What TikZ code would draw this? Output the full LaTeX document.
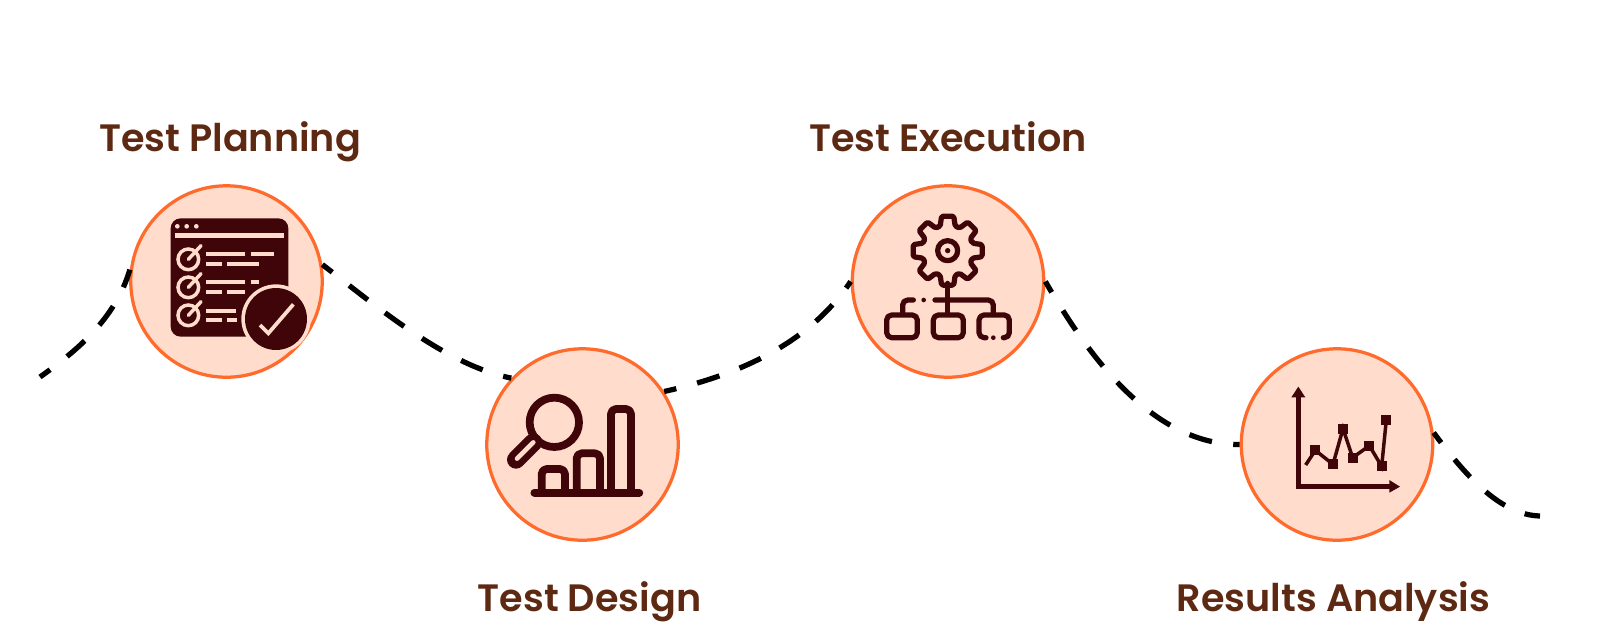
\documentclass[tikz,border=0pt]{standalone}
\usepackage{fontspec}
\setmainfont{Poppins}[BoldFont={Poppins SemiBold}]
\definecolor{stagefill}{HTML}{FFDCCC}
\definecolor{stageedge}{HTML}{FF6B2C}
\definecolor{icondark}{HTML}{3F0508}
\definecolor{labelbrown}{HTML}{5E2912}
\tikzset{
	stage/.style={circle, draw=stageedge, fill=stagefill, line width=0.065cm, minimum size=3.83cm, inner sep=0pt},
	stagelabel/.style={anchor=base, text=labelbrown, font=\fontsize{21.7}{26}\selectfont\bfseries, inner sep=0pt},
	pathdash/.style={black, line width=0.105cm, dash pattern=on 0.47cm off 0.43cm, dash phase=0.22cm},
	iconline/.style={draw=icondark, line width=0.155cm, line cap=round, line join=round, rounded corners=0.1cm},
	thinline/.style={draw=icondark, line width=0.105cm, line cap=round, line join=round, rounded corners=0.1cm},
	paleline/.style={draw=stagefill, line width=0.07cm},
}
\begin{document}
\begin{tikzpicture}[x=0.02cm, y=-0.02cm]

	\useasboundingbox (0,0) rectangle (1600,626);
	\fill[white] (0,0) rectangle (1600,626);

	\node[stage] (planning) at (226.5,281.5) {};
	\node[stage] (design) at (582.5,444.5) {};
	\node[stage] (execution) at (948,281.5) {};
	\node[stage] (analysis) at (1337,444.5) {};

	\node[stagelabel] (planninglabel) at (230,151.5) {Test Planning};
	\node[stagelabel] (designlabel) at (589.5,611) {Test Design};
	\node[stagelabel] (executionlabel) at (948,151.5) {Test Execution};
	\node[stagelabel] (analysislabel) at (1333.5,611) {Results Analysis};

	\coordinate (pathstart) at (40,377);
	\coordinate (pathend) at (1540,516);

	\draw[pathdash] (pathstart) .. controls (75,352) and (115,320) .. (planning.173);
	\draw[pathdash] (planning.10) .. controls (375,305) and (445,365) .. (design.137);
	\draw[pathdash] (design.33) .. controls (725,378) and (805,350) .. (execution.180);
	\draw[pathdash] (execution.0) .. controls (1085,350) and (1150,445) .. (analysis.180);
	\draw[pathdash] (analysis.7) .. controls (1465,475) and (1500,515) .. (pathend);

	% checklist
	\begin{scope}[shift={(120,175)}, scale=1/3]
		\fill[icondark, rounded corners=0.2cm] (152,130) rectangle (505,485);
		\foreach \dotx in {172,200,229}
			\fill[stagefill] (\dotx,154) circle (7);
		\fill[stagefill] (165,175) rectangle (492,190);
		\foreach \rowy in {253,337,421} {
			\draw[paleline] (205,\rowy) circle (31);
			\draw[paleline, line cap=round] (205,\rowy) -- (243,\rowy-41);
		}
		\foreach \xa/\xb/\rowy in {258/376/238, 392/462/238, 258/306/266, 322/418/266, 258/376/322, 392/418/322, 258/306/350, 322/376/350, 258/348/407, 258/306/436, 322/350/436}
			\fill[stagefill] (\xa,\rowy-6) rectangle (\xb,\rowy+6);
		\fill[stagefill] (468,432) circle (104);
		\fill[icondark] (468,432) circle (93);
		\draw[stagefill, line width=0.075cm] (420,450) -- (445,475) -- (520,388);
	\end{scope}

	% magnifier and bars
	\begin{scope}[shift={(470,335)}, scale=1/3]
		\draw[icondark, line width=0.155cm] (253,262) circle (74);
		\draw[icondark, line width=0.36cm, line cap=round] (190,322) -- (138,374);
		\draw[stagefill, line width=0.09cm, line cap=round] (190,322) -- (141,371);
		\draw[iconline] (215,473) -- (215,402) -- (285,402) -- (285,473);
		\draw[iconline] (320,473) -- (320,355) -- (390,355) -- (390,473);
		\draw[iconline] (423,473) -- (423,222) -- (483,222) -- (483,473);
		\draw[iconline] (193,473) -- (508,473);
	\end{scope}

	% gear and tree
	\begin{scope}[shift={(830,175)}, scale=1/3]
		\begin{scope}[shift={(353,227)}]
			\draw[thinline, rounded corners=0.03cm] (-17:77) \foreach \gearang in {0,45,...,315} {
				-- (\gearang-17:77) -- (\gearang-10:105) -- (\gearang+10:105) -- (\gearang+17:77)
			} -- cycle;
			\draw[thinline] (0,0) circle (30);
			\fill[icondark] (0,0) circle (8);
		\end{scope}
		\draw[thinline] (353,325) -- (353,415);
		\draw[thinline] (315,375) -- (490,375) -- (490,415);
		\draw[thinline] (250,375) -- (218,375) -- (218,415);
		\fill[icondark] (281,375) circle (7);
		\draw[thinline] (170,420) rectangle (262,488);
		\draw[thinline] (310,420) rectangle (400,488);
		\draw[thinline] (468,488) -- (447,488) -- (447,420) -- (538,420) -- (538,488) -- (520,488);
		\fill[icondark] (490,488) circle (7);
	\end{scope}

	% chart
	\begin{scope}[shift={(1210,335)}, scale=1/3]
		\draw[icondark, line width=0.09cm, line join=miter] (265,180) -- (265,455) -- (545,455);
		\fill[icondark] (265,155) -- (286,187) -- (244,187) -- cycle;
		\fill[icondark] (570,455) -- (538,435) -- (538,473) -- cycle;
		\draw[icondark, line width=0.07cm] (287,390) -- (316,346) -- (369,388) -- (399,281) -- (428,368) -- (478,332) -- (515,394) -- (529,254);
		\foreach \markx/\marky in {316/346, 369/388, 399/281, 428/368, 478/332, 515/394, 529/254}
			\fill[icondark] (\markx-15,\marky-15) rectangle (\markx+15,\marky+15);
	\end{scope}

\end{tikzpicture}
\end{document}
